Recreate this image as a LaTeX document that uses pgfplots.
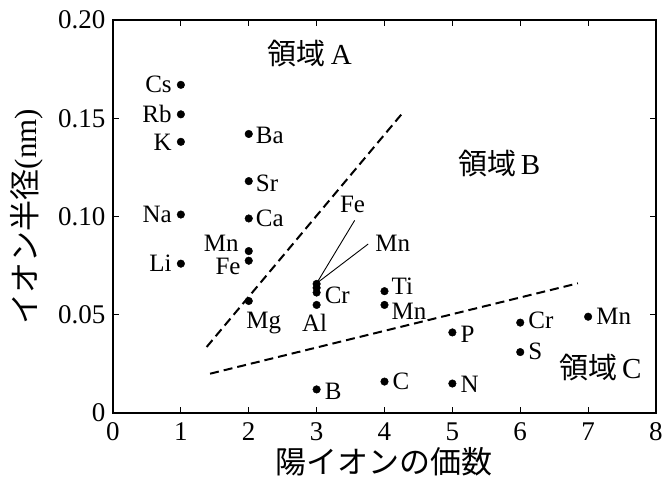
\documentclass[border=0pt]{standalone}
\usepackage{fontspec}
\setmainfont{Liberation Serif}
\newfontfamily\jp{Noto Sans CJK JP}
\usepackage{pgfplots}
\pgfplotsset{compat=1.18}
\newcommand{\lbl}{\fontsize{25}{25}\selectfont}
\newcommand{\reg}{\fontsize{29}{29}\selectfont}
\begin{document}
\begin{tikzpicture}
\begin{axis}[
  scale only axis, width=543pt, height=393pt,
  xmin=0, xmax=8, ymin=0, ymax=0.20,
  xtick={0,1,2,3,4,5,6,7,8},
  xticklabels={0,1,2,3,4,5,6,7,8},
  ytick={0,0.05,0.10,0.15,0.20},
  yticklabels={0,0.05,0.10,0.15,0.20},
  tick align=inside, major tick length=6pt,
  tick style={line width=1pt, black},
  axis line style={line width=1.3pt},
  ticklabel style={font=\fontsize{27}{27}\selectfont},
  xticklabel style={yshift=-6pt},
  yticklabel style={xshift=-4pt},
  /pgf/number format/assume math mode=true,
  xlabel={\jp 陽イオンの価数},
  ylabel={\jp イオン半径\rmfamily(nm)},
  label style={font=\fontsize{31}{32}\selectfont},
  xlabel style={yshift=0pt},
  ylabel style={yshift=8pt},
  clip=false,
]
\coordinate (ll) at (rel axis cs:0,0);
% dividing lines
\addplot[black, line width=2pt, dash pattern=on 9pt off 5pt] coordinates {(1.38,0.0336) (4.25,0.152)};
\addplot[black, line width=2pt, dash pattern=on 9pt off 5pt] coordinates {(1.43,0.020) (6.85,0.066)};
% leader lines
\addplot[black, line width=0.9pt] coordinates {(3.56,0.098) (3.0,0.066)};
\addplot[black, line width=0.9pt] coordinates {(3.76,0.086) (3.0,0.066)};
% points
\addplot[only marks, mark=*, mark size=3.8pt, black] coordinates {
 (1,0.167) (1,0.152) (1,0.138) (1,0.101) (1,0.076)
 (2,0.142) (2,0.118) (2,0.099) (2,0.0824) (2,0.0775) (2,0.057)
 (3,0.0657) (3,0.0637) (3,0.0613) (3,0.055) (3,0.012)
 (4,0.062) (4,0.055) (4,0.016)
 (5,0.041) (5,0.015)
 (6,0.046) (6,0.031)
 (7,0.049)
};
% labels
\begin{scope}[every node/.style={font=\lbl, inner sep=0pt}]
\node[anchor=east] at ([xshift=-9pt]axis cs:1,0.167) {Cs};
\node[anchor=east] at ([xshift=-9pt]axis cs:1,0.152) {Rb};
\node[anchor=east] at ([xshift=-9pt]axis cs:1,0.138) {K};
\node[anchor=east] at ([xshift=-9pt]axis cs:1,0.101) {Na};
\node[anchor=east] at ([xshift=-9pt]axis cs:1,0.076) {Li};
\node[anchor=west] at ([xshift=7pt]axis cs:2,0.141) {Ba};
\node[anchor=west] at ([xshift=7pt]axis cs:2,0.117) {Sr};
\node[anchor=west] at ([xshift=7pt]axis cs:2,0.099) {Ca};
\node[anchor=east] at ([xshift=-10pt]axis cs:2,0.0865) {Mn};
\node[anchor=east] at ([xshift=-8pt]axis cs:2,0.0745) {Fe};
\node at (axis cs:2.22,0.046) {Mg};
\node at (axis cs:2.97,0.046) {Al};
\node[anchor=west] at ([xshift=8pt]axis cs:3,0.060) {Cr};
\node[anchor=west] at ([xshift=8pt]axis cs:3,0.011) {B};
\node at (axis cs:3.53,0.106) {Fe};
\node at (axis cs:4.12,0.0865) {Mn};
\node[anchor=west] at ([xshift=7pt]axis cs:4,0.0645) {Ti};
\node[anchor=west] at ([xshift=7pt]axis cs:4,0.0515) {Mn};
\node[anchor=west] at ([xshift=8pt]axis cs:4,0.016) {C};
\node[anchor=west] at ([xshift=8pt]axis cs:5,0.040) {P};
\node[anchor=west] at ([xshift=8pt]axis cs:5,0.0145) {N};
\node[anchor=west] at ([xshift=8pt]axis cs:6,0.047) {Cr};
\node[anchor=west] at ([xshift=8pt]axis cs:6,0.0315) {S};
\node[anchor=west] at ([xshift=8pt]axis cs:7,0.049) {Mn};
\end{scope}
\node[font=\reg] at (axis cs:2.90,0.183) {{\jp 領域}\,A};
\node[font=\reg] at (axis cs:5.69,0.127) {{\jp 領域}\,B};
\node[font=\reg] at (axis cs:7.18,0.0229) {{\jp 領域}\,C};
\end{axis}
\pgfresetboundingbox
\path[use as bounding box] (ll) ++(-113pt,-69pt) rectangle ++(667pt,482pt);
\end{tikzpicture}
\end{document}
